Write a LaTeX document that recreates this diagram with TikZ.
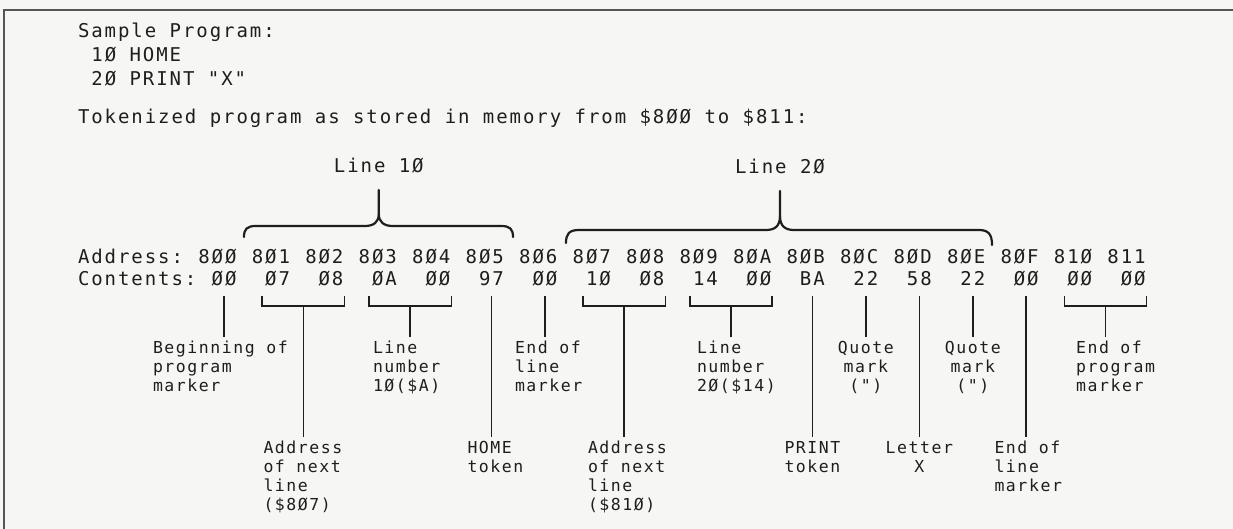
\documentclass[tikz,border=0pt]{standalone}
\usepackage{fontspec}
\usetikzlibrary{calc}
\newfontfamily\rowmono[LetterSpace=10.2]{DejaVu Sans Mono}
\newfontfamily\lblmono[LetterSpace=9.5]{DejaVu Sans Mono}
\definecolor{ink}{RGB}{30,30,30}
\definecolor{paper}{RGB}{246,246,244}
\definecolor{framec}{RGB}{85,85,85}
\newcommand{\rowsize}{\rowmono\fontsize{19}{24}\selectfont}
\newcommand{\lblsize}{\lblmono\fontsize{16.5}{19}\selectfont}
\begin{document}
\begin{tikzpicture}[x=1pt,y=-1pt,
  rowtxt/.style={inner sep=0pt,outer sep=0pt,text=ink,font=\rowsize,anchor=base west},
  lbltxt/.style={inner sep=0pt,outer sep=0pt,text=ink,font=\lblsize,anchor=north west,align=left},
  lblmid/.style={lbltxt,anchor=north,align=center},
  ln/.style={draw=ink,line width=1.6pt},
  bracestyle/.style={draw=ink,line width=2.2pt,line cap=round,line join=round}]
\useasboundingbox (0,0) rectangle (1233,529);
\fill[paper] (0,0) rectangle (1233,529);
\draw[framec,line width=2pt] (1233,10) -- (4,10) -- (4,529);

% program listing
\node[rowtxt] (sample) at (78,38) {Sample Program:};
\node[rowtxt] (prog10) at (91.4,62) {1Ø HOME};
\node[rowtxt] (prog20) at (91.4,86) {2Ø PRINT "X"};
\node[rowtxt] (tok) at (78,124) {Tokenized program as stored in memory from \$8ØØ to \$811:};

% line labels and braces
\node[rowtxt,anchor=base] (line10) at (378.8,173) {Line 1Ø};
\node[rowtxt,anchor=base] (line20) at (780,174) {Line 2Ø};
\coordinate (b1tip) at (378.8,190);
\coordinate (b2tip) at (780,191);
\draw[bracestyle] (244,237) .. controls (244,229) and (247,226) .. (256,226) -- (364.8,226)
  .. controls (373.8,226) and (378.8,222) .. (378.8,214) -- (b1tip);
\draw[bracestyle] (513,237) .. controls (513,229) and (510,226) .. (501,226) -- (392.8,226)
  .. controls (383.8,226) and (378.8,222) .. (378.8,214);
\draw[bracestyle] (566,243) .. controls (566,234) and (569,230) .. (579,230) -- (766,230)
  .. controls (775,230) and (780,226) .. (780,216) -- (b2tip);
\draw[bracestyle] (992,245) .. controls (992,235) and (989,230) .. (979,230) -- (794,230)
  .. controls (785,230) and (780,226) .. (780,216);

% address / contents rows
\node[rowtxt] (addr) at (78,263) {Address:};
\node[rowtxt] (cont) at (78,285) {Contents:};
\foreach \a/\c [count=\i from 0] in {8ØØ/ØØ,8Ø1/Ø7,8Ø2/Ø8,8Ø3/ØA,8Ø4/ØØ,8Ø5/97,8Ø6/ØØ,8Ø7/1Ø,8Ø8/Ø8,8Ø9/14,8ØA/ØØ,8ØB/BA,8ØC/22,8ØD/58,8ØE/22,8ØF/ØØ,81Ø/ØØ,811/ØØ}{
  \node[rowtxt] (a\i) at ({198.3+53.48*\i},263) {\a};
  \node[rowtxt] (c\i) at ({211.67+53.48*\i},285) {\c};
}

\coordinate (ytick) at (0,296);
\coordinate (ybar) at (0,306);
\coordinate (t1) at (0,341);
\coordinate (t2) at (0,441);

% explanatory labels
\node[lbltxt] (L800) at (153,341) {Beginning of\\program\\marker};
\node[lbltxt] (L801) at (263.5,441) {Address\\of next\\line\\(\$8Ø7)};
\node[lbltxt] (L803) at (373,341) {Line\\number\\1Ø(\$A)};
\node[lbltxt] (L805) at (467.5,441) {HOME\\token};
\node[lbltxt] (L806) at (515,341) {End of\\line\\marker};
\node[lbltxt] (L807) at (588,441) {Address\\of next\\line\\(\$81Ø)};
\node[lbltxt] (L809) at (697,341) {Line\\number\\2Ø(\$14)};
\node[lbltxt] (L80B) at (784.5,441) {PRINT\\token};
\node[lblmid] (L80C) at (c12.center |- t1) {Quote\\mark\\(")};
\node[lblmid] (L80D) at (c13.center |- t2) {Letter\\X};
\node[lblmid] (L80E) at (c14.center |- t1) {Quote\\mark\\(")};
\node[lbltxt] (L80F) at (994.5,441) {End of\\line\\marker};
\node[lbltxt] (L810) at (1076,341) {End of\\program\\marker};

% brackets with stems
\foreach \p/\q/\lab in {1/2/L801,3/4/L803,7/8/L807,9/10/L809,16/17/L810}{
  \draw[ln] ($(c\p.west |- ytick)+(-3,0)$) -- ($(c\p.west |- ybar)+(-3,0)$)
    -- ($(c\q.east |- ybar)+(1,0)$) -- ($(c\q.east |- ytick)+(1,0)$);
  \coordinate (mid) at ($(c\p.west)!0.5!(c\q.east)+(-1,0)$);
  \draw[ln,shorten >=4pt] (mid |- ybar) -- (mid |- \lab.north);
}
% single ticks
\foreach \k/\lab in {0/L800,5/L805,6/L806,11/L80B,12/L80C,13/L80D,14/L80E,15/L80F}{
  \draw[ln,shorten >=4pt] (c\k.center |- ytick) -- (c\k.center |- \lab.north);
}
\end{tikzpicture}
\end{document}
